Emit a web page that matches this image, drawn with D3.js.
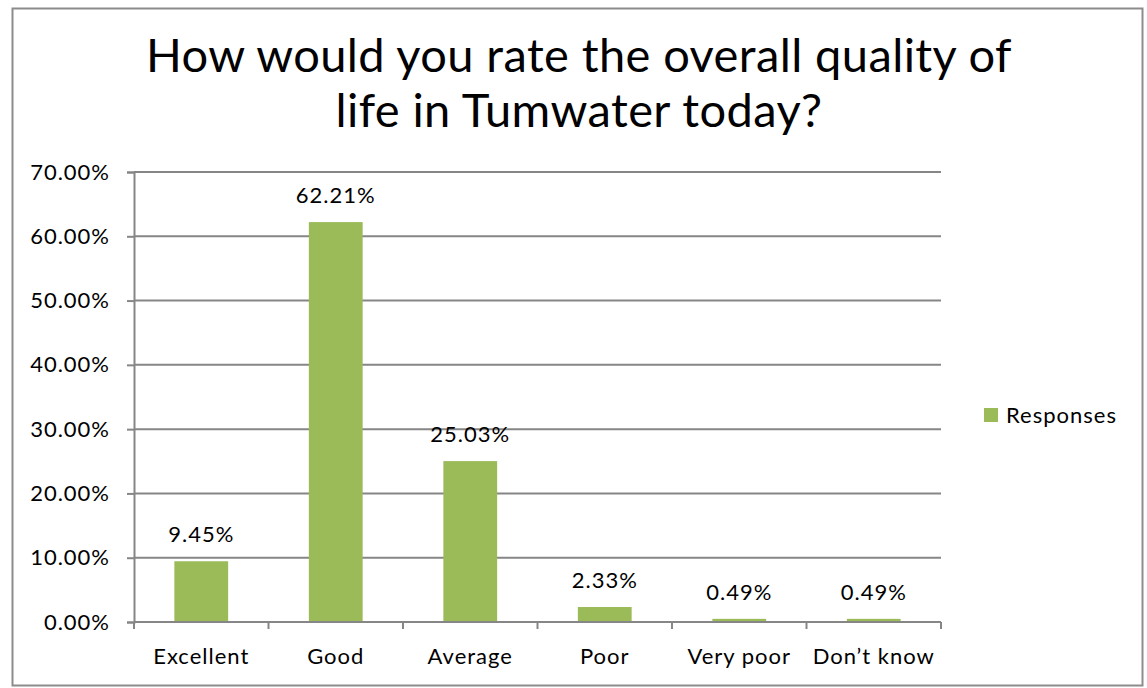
<!DOCTYPE html>
<html>
<head>
<meta charset="utf-8">
<script src="https://cdn.jsdelivr.net/npm/d3@7"></script>
<style>
  body { margin: 0; background: #fff; }
  svg { display: block; font-family: Lato, "Open Sans", sans-serif; }
</style>
</head>
<body>
<svg id="chart" width="1147" height="688"></svg>
<script>
// chart data
const categories = ["Excellent", "Good", "Average", "Poor", "Very poor", "Don\u2019t know"];
const responses = [0.0945, 0.6221, 0.2503, 0.0233, 0.0049, 0.0049];
const yTicks = [0, 0.1, 0.2, 0.3, 0.4, 0.5, 0.6, 0.7];
const titleLines = ["How would you rate the overall quality of", "life in Tumwater today?"];
const seriesName = "Responses";

const svg = d3.select("#chart");
const green = "#9bbb59";
const gray = "#868686";
const labelSize = 22;
const labelSpacing = 1;

// outer frame
svg.append("rect")
  .attr("x", 12.5).attr("y", 8.5)
  .attr("width", 1130).attr("height", 677)
  .attr("fill", "#fff")
  .attr("stroke", "#8c8c8c")
  .attr("stroke-width", 2);

// title
svg.append("g")
  .selectAll("text")
  .data(titleLines)
  .enter().append("text")
    .attr("x", 579)
    .attr("y", (d, i) => 72 + i * 55)
    .attr("text-anchor", "middle")
    .attr("font-size", 47)
    .attr("letter-spacing", 0.4)
    .attr("fill", "#000")
    .text(d => d);

let x = d3.scaleBand()
  .domain(categories)
  .range([134, 941])
  .paddingInner(0.6)
  .paddingOuter(0.3);

let y = d3.scaleLinear()
  .domain([0, 0.7])
  .range([622, 172]);

// gridlines
svg.append("g")
  .selectAll("line")
  .data(yTicks.slice(1))
  .enter().append("line")
    .attr("x1", 134).attr("x2", 941)
    .attr("y1", d => y(d)).attr("y2", d => y(d))
    .attr("stroke", gray)
    .attr("stroke-width", 2);

// y axis
let yAxis = svg.append("g")
  .attr("transform", "translate(134,0)")
  .call(d3.axisLeft(y).tickValues(yTicks).tickSize(7).tickPadding(17)
    .tickFormat(d => (d * 100).toFixed(2) + "%"));
yAxis.select(".domain").attr("stroke", gray).attr("stroke-width", 2);
yAxis.selectAll(".tick line").attr("stroke", gray).attr("stroke-width", 2);
yAxis.selectAll(".tick text")
  .attr("font-size", labelSize)
  .attr("letter-spacing", labelSpacing)
  .attr("font-family", "Lato, sans-serif")
  .attr("fill", "#000");

// bars
svg.append("g")
  .selectAll("rect")
  .data(responses)
  .enter().append("rect")
    .attr("x", (d, i) => x(categories[i]))
    .attr("y", d => y(d))
    .attr("width", x.bandwidth())
    .attr("height", d => y(0) - y(d))
    .attr("fill", green);

// value labels
svg.append("g")
  .selectAll("text")
  .data(responses)
  .enter().append("text")
    .attr("x", (d, i) => x(categories[i]) + x.bandwidth() / 2)
    .attr("y", d => y(d) - 19)
    .attr("text-anchor", "middle")
    .attr("font-size", labelSize)
    .attr("letter-spacing", labelSpacing)
    .attr("fill", "#000")
    .text(d => (d * 100).toFixed(2) + "%");

// x axis with category boundary ticks
let boundaries = d3.range(categories.length + 1).map(i => 134 + i * (941 - 134) / categories.length);
svg.append("line")
  .attr("x1", 134).attr("x2", 941)
  .attr("y1", y(0)).attr("y2", y(0))
  .attr("stroke", gray).attr("stroke-width", 2);
svg.append("g")
  .selectAll("line")
  .data(boundaries)
  .enter().append("line")
    .attr("x1", d => d).attr("x2", d => d)
    .attr("y1", y(0)).attr("y2", y(0) + 7)
    .attr("stroke", gray).attr("stroke-width", 2);
svg.append("g")
  .selectAll("text")
  .data(categories)
  .enter().append("text")
    .attr("x", d => x(d) + x.bandwidth() / 2)
    .attr("y", 664)
    .attr("text-anchor", "middle")
    .attr("font-size", labelSize)
    .attr("letter-spacing", labelSpacing)
    .attr("fill", "#000")
    .text(d => d);

// legend
let legend = svg.append("g").attr("transform", "translate(984,408)");
legend.append("rect")
  .attr("width", 14).attr("height", 14)
  .attr("fill", green);
legend.append("text")
  .attr("x", 22).attr("y", 15)
  .attr("font-size", labelSize)
  .attr("letter-spacing", labelSpacing)
  .attr("fill", "#000")
  .text(seriesName);
</script>
</body>
</html>
